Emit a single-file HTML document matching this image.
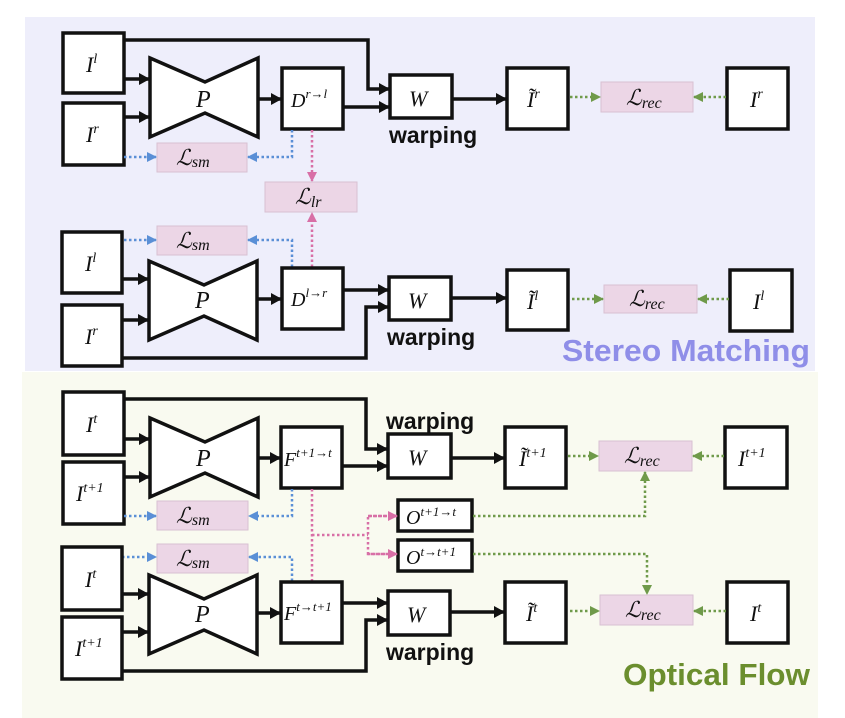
<!DOCTYPE html>
<html><head><meta charset="utf-8"><style>
html,body{margin:0;padding:0;background:#fff;}
svg{display:block}
.m{font-family:"Liberation Serif",serif;font-style:italic;fill:#111}
.b{fill:#fff;stroke:#111;stroke-width:3.5}
.l{fill:#ecd6e6;stroke:#d8c0d2;stroke-width:1}
.k{stroke:#111;stroke-width:3.5;fill:none}
.bl{stroke:#5a8fd6;stroke-width:2.5;stroke-dasharray:2.5 2.5;fill:none}
.pk{stroke:#d86fa6;stroke-width:2.5;stroke-dasharray:2.5 2.5;fill:none}
.gr{stroke:#6f9a4a;stroke-width:2.5;stroke-dasharray:2.5 2.5;fill:none}
.w{font-family:"Liberation Sans",sans-serif;font-weight:bold;font-size:23px;fill:#111}
</style></head><body>
<svg width="845" height="718" viewBox="0 0 845 718">
<defs>
<marker id="ak" markerWidth="12" markerHeight="12" refX="10" refY="6" orient="auto" markerUnits="userSpaceOnUse"><path d="M0,0 L11,6 L0,12z" fill="#111"/></marker>
<marker id="ab" markerWidth="10" markerHeight="10" refX="9" refY="5" orient="auto" markerUnits="userSpaceOnUse"><path d="M0,0 L10,5 L0,10z" fill="#5a8fd6"/></marker>
<marker id="ap" markerWidth="10" markerHeight="10" refX="9" refY="5" orient="auto" markerUnits="userSpaceOnUse"><path d="M0,0 L10,5 L0,10z" fill="#d86fa6"/></marker>
<marker id="ag" markerWidth="10" markerHeight="10" refX="9" refY="5" orient="auto" markerUnits="userSpaceOnUse"><path d="M0,0 L10,5 L0,10z" fill="#6f9a4a"/></marker>
</defs>
<rect x="25" y="17" width="790" height="354" fill="#eeeefb"/>
<rect x="22" y="372" width="796" height="346" fill="#f9faf0"/>

<!-- ===== TOP ROW 1 ===== -->
<rect class="b" x="63" y="33" width="61" height="60"/><text class="m" x="86" y="72" font-size="22">I<tspan font-size="14" dy="-9">l</tspan></text>
<rect class="b" x="63" y="103" width="61" height="62"/><text class="m" x="86" y="142" font-size="22">I<tspan font-size="14" dy="-9">r</tspan></text>
<polygon class="b" points="150,58 205,82 258,58 258,137 205,113 150,137"/><text class="m" x="196" y="107" font-size="24">P</text>
<rect class="b" x="282" y="68" width="61" height="61"/><text class="m" x="291" y="107" font-size="20">D<tspan font-size="13" dy="-9">r→l</tspan></text>
<rect class="b" x="390" y="75" width="62" height="43"/><text class="m" x="409" y="106" font-size="22">W</text>
<text class="w" x="389" y="143">warping</text>
<rect class="b" x="507" y="68" width="61" height="61"/><text class="m" x="527" y="107" font-size="22">Ĩ<tspan font-size="14" dy="-9">r</tspan></text>
<rect class="l" x="601" y="82" width="92" height="30"/><text class="m" x="626" y="105" font-size="22">ℒ<tspan font-size="16" dy="3">rec</tspan></text>
<rect class="b" x="727" y="68" width="61" height="61"/><text class="m" x="750" y="107" font-size="22">I<tspan font-size="14" dy="-9">r</tspan></text>
<line class="k" x1="124" y1="79" x2="149" y2="79" marker-end="url(#ak)"/>
<line class="k" x1="124" y1="117" x2="149" y2="117" marker-end="url(#ak)"/>
<line class="k" x1="258" y1="99" x2="281" y2="99" marker-end="url(#ak)"/>
<polyline class="k" points="124,40 368,40 368,89 389,89" marker-end="url(#ak)"/>
<line class="k" x1="343" y1="107" x2="389" y2="107" marker-end="url(#ak)"/>
<line class="k" x1="452" y1="99" x2="506" y2="99" marker-end="url(#ak)"/>
<line class="gr" x1="570" y1="97" x2="600" y2="97" marker-end="url(#ag)"/>
<line class="gr" x1="726" y1="97" x2="694" y2="97" marker-end="url(#ag)"/>
<rect class="l" x="157" y="143" width="90" height="29"/><text class="m" x="176" y="165" font-size="22">ℒ<tspan font-size="16" dy="2">sm</tspan></text>
<line class="bl" x1="124" y1="157" x2="156" y2="157" marker-end="url(#ab)"/>
<polyline class="bl" points="292,130 292,157 248,157" marker-end="url(#ab)"/>
<rect class="l" x="265" y="182" width="92" height="30"/><text class="m" x="295" y="204" font-size="22">ℒ<tspan font-size="16" dy="3">lr</tspan></text>
<line class="pk" x1="312" y1="130" x2="312" y2="181" marker-end="url(#ap)"/>
<line class="pk" x1="312" y1="267" x2="312" y2="213" marker-end="url(#ap)"/>
<rect class="l" x="157" y="226" width="90" height="29"/><text class="m" x="176" y="248" font-size="22">ℒ<tspan font-size="16" dy="2">sm</tspan></text>
<line class="bl" x1="124" y1="240" x2="156" y2="240" marker-end="url(#ab)"/>
<polyline class="bl" points="292,267 292,240 248,240" marker-end="url(#ab)"/>

<!-- ===== TOP ROW 2 ===== -->
<rect class="b" x="62" y="232" width="60" height="61"/><text class="m" x="85" y="271" font-size="22">I<tspan font-size="14" dy="-9">l</tspan></text>
<rect class="b" x="62" y="305" width="60" height="61"/><text class="m" x="85" y="344" font-size="22">I<tspan font-size="14" dy="-9">r</tspan></text>
<polygon class="b" points="149,261 204,285 257,261 257,340 204,316 149,340"/><text class="m" x="195" y="308" font-size="24">P</text>
<rect class="b" x="282" y="268" width="61" height="61"/><text class="m" x="291" y="306" font-size="20">D<tspan font-size="13" dy="-9">l→r</tspan></text>
<rect class="b" x="389" y="277" width="62" height="43"/><text class="m" x="408" y="308" font-size="22">W</text>
<text class="w" x="387" y="345">warping</text>
<rect class="b" x="507" y="270" width="61" height="60"/><text class="m" x="527" y="309" font-size="22">Ĩ<tspan font-size="14" dy="-9">l</tspan></text>
<rect class="l" x="604" y="285" width="93" height="28"/><text class="m" x="629" y="306" font-size="22">ℒ<tspan font-size="16" dy="3">rec</tspan></text>
<rect class="b" x="730" y="270" width="62" height="61"/><text class="m" x="753" y="309" font-size="22">I<tspan font-size="14" dy="-9">l</tspan></text>
<line class="k" x1="122" y1="279" x2="148" y2="279" marker-end="url(#ak)"/>
<line class="k" x1="122" y1="320" x2="148" y2="320" marker-end="url(#ak)"/>
<line class="k" x1="257" y1="299" x2="281" y2="299" marker-end="url(#ak)"/>
<line class="k" x1="343" y1="290" x2="388" y2="290" marker-end="url(#ak)"/>
<polyline class="k" points="122,358 366,358 366,307 388,307" marker-end="url(#ak)"/>
<line class="k" x1="451" y1="298" x2="506" y2="298" marker-end="url(#ak)"/>
<line class="gr" x1="572" y1="299" x2="603" y2="299" marker-end="url(#ag)"/>
<line class="gr" x1="729" y1="299" x2="698" y2="299" marker-end="url(#ag)"/>
<text x="562" y="361" font-family="Liberation Sans,sans-serif" font-weight="bold" font-size="31" textLength="248" lengthAdjust="spacingAndGlyphs" fill="#8f8ee8">Stereo Matching</text>

<!-- ===== BOTTOM ROW 1 ===== -->
<rect class="b" x="63" y="392" width="61" height="63"/><text class="m" x="86" y="432" font-size="22">I<tspan font-size="14" dy="-9">t</tspan></text>
<rect class="b" x="63" y="462" width="61" height="62"/><text class="m" x="76" y="501" font-size="22">I<tspan font-size="14" dy="-9">t+1</tspan></text>
<polygon class="b" points="150,418 205,442 258,418 258,497 205,473 150,497"/><text class="m" x="196" y="466" font-size="24">P</text>
<rect class="b" x="281" y="427" width="61" height="61"/><text class="m" x="284" y="466" font-size="20">F<tspan font-size="13" dy="-9">t+1→t</tspan></text>
<text class="w" x="386" y="429">warping</text>
<rect class="b" x="388" y="434" width="63" height="44"/><text class="m" x="408" y="465" font-size="22">W</text>
<rect class="b" x="505" y="427" width="61" height="61"/><text class="m" x="519" y="466" font-size="22">Ĩ<tspan font-size="14" dy="-9">t+1</tspan></text>
<rect class="l" x="599" y="441" width="93" height="30"/><text class="m" x="624" y="463" font-size="22">ℒ<tspan font-size="16" dy="3">rec</tspan></text>
<rect class="b" x="725" y="427" width="62" height="61"/><text class="m" x="738" y="466" font-size="22">I<tspan font-size="14" dy="-9">t+1</tspan></text>
<line class="k" x1="124" y1="439" x2="149" y2="439" marker-end="url(#ak)"/>
<line class="k" x1="124" y1="477" x2="149" y2="477" marker-end="url(#ak)"/>
<line class="k" x1="258" y1="458" x2="280" y2="458" marker-end="url(#ak)"/>
<polyline class="k" points="124,399 366,399 366,449 387,449" marker-end="url(#ak)"/>
<line class="k" x1="342" y1="466" x2="387" y2="466" marker-end="url(#ak)"/>
<line class="k" x1="451" y1="458" x2="504" y2="458" marker-end="url(#ak)"/>
<line class="gr" x1="568" y1="456" x2="598" y2="456" marker-end="url(#ag)"/>
<line class="gr" x1="724" y1="456" x2="693" y2="456" marker-end="url(#ag)"/>
<rect class="l" x="157" y="501" width="91" height="29"/><text class="m" x="176" y="523" font-size="22">ℒ<tspan font-size="16" dy="2">sm</tspan></text>
<line class="bl" x1="124" y1="516" x2="156" y2="516" marker-end="url(#ab)"/>
<polyline class="bl" points="292,489 292,516 249,516" marker-end="url(#ab)"/>

<!-- occlusion -->
<rect class="b" x="398" y="500" width="74" height="31"/><text class="m" x="406" y="524" font-size="20">O<tspan font-size="13" dy="-8">t+1→t</tspan></text>
<rect class="b" x="398" y="540" width="74" height="31"/><text class="m" x="406" y="564" font-size="20">O<tspan font-size="13" dy="-8">t→t+1</tspan></text>
<line class="pk" x1="312" y1="489" x2="312" y2="581"/>
<line class="pk" x1="312" y1="535" x2="368" y2="535"/>
<polyline class="pk" points="397,516 368,516 368,554 397,554"/>
<line class="pk" x1="368" y1="516" x2="397" y2="516" marker-end="url(#ap)"/>
<line class="pk" x1="368" y1="554" x2="397" y2="554" marker-end="url(#ap)"/>
<polyline class="gr" points="473,516 645,516 645,472" marker-end="url(#ag)"/>
<polyline class="gr" points="473,554 647,554 647,594" marker-end="url(#ag)"/>

<!-- ===== BOTTOM ROW 2 ===== -->
<rect class="l" x="157" y="544" width="91" height="29"/><text class="m" x="176" y="566" font-size="22">ℒ<tspan font-size="16" dy="2">sm</tspan></text>
<line class="bl" x1="122" y1="557" x2="156" y2="557" marker-end="url(#ab)"/>
<polyline class="bl" points="292,581 292,557 249,557" marker-end="url(#ab)"/>
<rect class="b" x="62" y="547" width="60" height="63"/><text class="m" x="85" y="587" font-size="22">I<tspan font-size="14" dy="-9">t</tspan></text>
<rect class="b" x="62" y="617" width="60" height="62"/><text class="m" x="75" y="656" font-size="22">I<tspan font-size="14" dy="-9">t+1</tspan></text>
<polygon class="b" points="149,575 204,599 257,575 257,654 204,630 149,654"/><text class="m" x="195" y="622" font-size="24">P</text>
<rect class="b" x="281" y="582" width="61" height="61"/><text class="m" x="284" y="620" font-size="20">F<tspan font-size="13" dy="-9">t→t+1</tspan></text>
<rect class="b" x="388" y="591" width="62" height="44"/><text class="m" x="407" y="622" font-size="22">W</text>
<text class="w" x="386" y="660">warping</text>
<rect class="b" x="505" y="582" width="61" height="61"/><text class="m" x="526" y="621" font-size="22">Ĩ<tspan font-size="14" dy="-9">t</tspan></text>
<rect class="l" x="600" y="595" width="93" height="30"/><text class="m" x="625" y="617" font-size="22">ℒ<tspan font-size="16" dy="3">rec</tspan></text>
<rect class="b" x="727" y="582" width="61" height="61"/><text class="m" x="750" y="621" font-size="22">I<tspan font-size="14" dy="-9">t</tspan></text>
<line class="k" x1="122" y1="594" x2="148" y2="594" marker-end="url(#ak)"/>
<line class="k" x1="122" y1="632" x2="148" y2="632" marker-end="url(#ak)"/>
<line class="k" x1="257" y1="613" x2="280" y2="613" marker-end="url(#ak)"/>
<line class="k" x1="342" y1="603" x2="387" y2="603" marker-end="url(#ak)"/>
<polyline class="k" points="122,671 366,671 366,620 387,620" marker-end="url(#ak)"/>
<line class="k" x1="450" y1="612" x2="504" y2="612" marker-end="url(#ak)"/>
<line class="gr" x1="570" y1="611" x2="599" y2="611" marker-end="url(#ag)"/>
<line class="gr" x1="726" y1="611" x2="694" y2="611" marker-end="url(#ag)"/>
<text x="623" y="685" font-family="Liberation Sans,sans-serif" font-weight="bold" font-size="31" textLength="187" lengthAdjust="spacingAndGlyphs" fill="#6b8e2e">Optical Flow</text>
</svg>
</body></html>
